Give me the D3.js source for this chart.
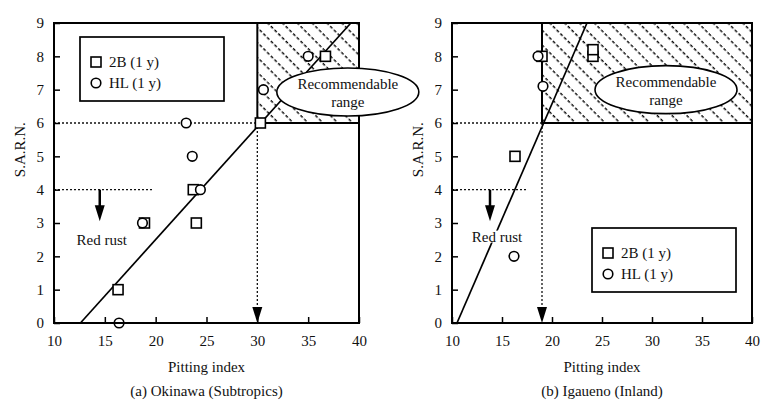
<!DOCTYPE html>
<html>
<head>
<meta charset="utf-8">
<script src="https://cdn.jsdelivr.net/npm/d3@7"></script>
<style>
  body { margin: 0; background: #fff; }
  svg text { font-family: "Liberation Serif", "DejaVu Serif", serif !important; fill: #111; }
</style>
</head>
<body>
<div id="chart"></div>
<script>
/* Pitting index vs S.A.R.N. - two panels */

const width = 764, height = 404;

// shared axes
const xTicks = [10, 15, 20, 25, 30, 35, 40];
const yTicks = [0, 1, 2, 3, 4, 5, 6, 7, 8, 9];

// (a) Okinawa
const okiSquares = [[16.3, 1], [18.9, 3], [24.0, 3], [23.7, 4], [30.3, 6], [36.7, 8]];
const okiCircles = [[16.4, 0], [18.7, 3], [24.4, 4], [23.6, 5], [23.0, 6], [30.6, 7], [35.0, 8]];
const okiFit = [[12.6, 0], [39.2, 9]];
const okiLimit = [30, 6];      // pitting index, S.A.R.N. threshold
const okiRust = [19.7, 14.5];  // end of 4-line, arrow x

// (b) Igaueno
const igaSquares = [[16.3, 5], [19.0, 8], [24.1, 8.0], [24.1, 8.2]];
const igaCircles = [[16.2, 2], [19.1, 7.1], [18.6, 8]];
const igaFit = [[10.5, 0], [23.5, 9]];
const igaLimit = [19, 6];
const igaRust = [17.5, 13.8];

const svg = d3.select("#chart")
    .append("svg")
    .attr("width", width)
    .attr("height", height);

// hatch pattern
const pat = svg.append("defs").append("pattern")
    .attr("id", "hatch")
    .attr("patternUnits", "userSpaceOnUse")
    .attr("width", 10.5).attr("height", 10.5)
    .attr("patternTransform", "rotate(-45)");
pat.append("line")
    .attr("x1", 5).attr("y1", 0).attr("x2", 5).attr("y2", 10.5)
    .attr("stroke", "#000").attr("stroke-width", 1.4)
    .attr("stroke-dasharray", "3.2,2.05");

const serif = sel => sel.style("font-family", "'Liberation Serif', 'DejaVu Serif', serif").attr("font-size", 15);

function drawPanel(p) {
  let x = d3.scaleLinear().domain([10, 40]).range([p.left, p.right]);
  let y = d3.scaleLinear().domain([0, 9]).range([323, 23]);
  let g = svg.append("g");

  /* recommendable region */
  g.append("rect")
    .attr("x", x(p.limit[0])).attr("y", y(9))
    .attr("width", x(40) - x(p.limit[0]))
    .attr("height", y(p.limit[1]) - y(9))
    .attr("fill", "url(#hatch)")
    .attr("stroke", "#000").attr("stroke-width", 2);

  /* dotted guides */
  const dot = sel => sel.attr("stroke", "#111").attr("stroke-width", 1.3)
      .attr("stroke-dasharray", "2,2").attr("fill", "none");
  g.append("line").call(dot)
    .attr("x1", x(10)).attr("x2", x(p.limit[0]))
    .attr("y1", y(p.limit[1])).attr("y2", y(p.limit[1]));
  g.append("line").call(dot)
    .attr("x1", x(p.limit[0])).attr("x2", x(p.limit[0]))
    .attr("y1", y(p.limit[1])).attr("y2", y(0) - 10);
  g.append("line").call(dot)
    .attr("x1", x(10)).attr("x2", x(p.rust[0]))
    .attr("y1", y(4)).attr("y2", y(4));

  const arrowHead = (cx, tip) => g.append("path")
    .attr("d", `M${cx - 5},${tip - 16}L${cx + 5},${tip - 16}L${cx},${tip}Z`)
    .attr("fill", "#000");
  arrowHead(x(p.limit[0]), y(0));

  // red rust arrow
  g.append("line")
    .attr("x1", x(p.rust[1])).attr("x2", x(p.rust[1]))
    .attr("y1", y(4)).attr("y2", y(3.4))
    .attr("stroke", "#000").attr("stroke-width", 2.5);
  arrowHead(x(p.rust[1]), y(3.05));

  /* fitted line */
  g.append("path")
    .datum(p.fit)
    .attr("d", d3.line().x(d => x(d[0])).y(d => y(d[1])))
    .attr("fill", "none").attr("stroke", "#000").attr("stroke-width", 1.7);

  /* Red rust label */
  let rr = g.append("text").call(serif)
    .attr("x", x(p.rustLabel[0])).attr("y", y(p.rustLabel[1]))
    .attr("text-anchor", "middle").attr("dy", "0.35em")
    .text("Red rust");
  let bb = rr.node().getBBox();
  g.insert("rect", () => rr.node())
    .attr("x", bb.x).attr("y", bb.y + 2)
    .attr("width", bb.width).attr("height", bb.height - 4)
    .attr("fill", "#fff");

  /* markers */
  g.selectAll(".sq").data(p.squares).join("rect")
    .attr("x", d => x(d[0]) - 5).attr("y", d => y(d[1]) - 5)
    .attr("width", 10).attr("height", 10)
    .attr("fill", "#fff").attr("stroke", "#000").attr("stroke-width", 1.6);
  g.selectAll(".ci").data(p.circles).join("circle")
    .attr("cx", d => x(d[0])).attr("cy", d => y(d[1]))
    .attr("r", 4.8)
    .attr("fill", "#fff").attr("stroke", "#000").attr("stroke-width", 1.6);

  /* frame and axes */
  g.append("rect")
    .attr("x", x(10)).attr("y", y(9))
    .attr("width", x(40) - x(10)).attr("height", y(0) - y(9))
    .attr("fill", "none").attr("stroke", "#000").attr("stroke-width", 2);

  let ax = g.append("g")
    .attr("transform", `translate(0,${y(0)})`)
    .call(d3.axisBottom(x).tickValues(xTicks).tickSize(-6).tickPadding(12));
  let ay = g.append("g")
    .attr("transform", `translate(${x(10)},0)`)
    .call(d3.axisLeft(y).tickValues(yTicks).tickSize(-6).tickPadding(10));
  [ax, ay].forEach(a => {
    a.select(".domain").remove();
    a.selectAll(".tick line").attr("stroke", "#000").attr("stroke-width", 1.5);
    a.selectAll("text").call(serif);
  });

  /* ellipse note */
  let ex = x(p.note[0]), ey = y(p.note[1]);
  g.append("ellipse")
    .attr("cx", ex).attr("cy", ey).attr("rx", 71).attr("ry", 24)
    .attr("fill", "#fff").attr("stroke", "#000").attr("stroke-width", 1.6);
  g.append("text").call(serif).attr("x", ex).attr("y", ey - 3)
    .attr("text-anchor", "middle").text("Recommendable");
  g.append("text").call(serif).attr("x", ex).attr("y", ey + 15)
    .attr("text-anchor", "middle").text("range");

  /* legend */
  let lg = g.append("g").attr("transform", `translate(${p.legend[0]},${p.legend[1]})`);
  lg.append("rect").attr("width", 144).attr("height", 64)
    .attr("fill", "#fff").attr("stroke", "#000").attr("stroke-width", 1.7);
  lg.append("rect").attr("x", 11).attr("y", 20).attr("width", 10).attr("height", 10)
    .attr("fill", "#fff").attr("stroke", "#000").attr("stroke-width", 1.6);
  lg.append("circle").attr("cx", 16).attr("cy", 46).attr("r", 4.8)
    .attr("fill", "#fff").attr("stroke", "#000").attr("stroke-width", 1.6);
  lg.append("text").call(serif).attr("x", 29).attr("y", 30).text("2B (1 y)");
  lg.append("text").call(serif).attr("x", 29).attr("y", 51).text("HL (1 y)");

  /* labels */
  let mid = (x(10) + x(40)) / 2;
  g.append("text").call(serif).attr("x", mid).attr("y", 372)
    .attr("text-anchor", "middle").text("Pitting index");
  g.append("text").call(serif).attr("x", mid).attr("y", 396)
    .attr("text-anchor", "middle").text(p.caption);
  g.append("text").call(serif)
    .attr("transform", `translate(${p.ylab},${y(5.2)}) rotate(-90)`)
    .attr("text-anchor", "middle").text("S.A.R.N.");
}

drawPanel({
  left: 54, right: 359, ylab: 25,
  squares: okiSquares, circles: okiCircles, fit: okiFit,
  limit: okiLimit, rust: okiRust, rustLabel: [14.7, 2.5],
  note: [38.9, 6.93], legend: [80, 37],
  caption: "(a) Okinawa (Subtropics)"
});

drawPanel({
  left: 452, right: 752, ylab: 423,
  squares: igaSquares, circles: igaCircles, fit: igaFit,
  limit: igaLimit, rust: igaRust, rustLabel: [14.5, 2.6],
  note: [31.4, 7.0], legend: [592, 228],
  caption: "(b) Igaueno (Inland)"
});
</script>
</body>
</html>
